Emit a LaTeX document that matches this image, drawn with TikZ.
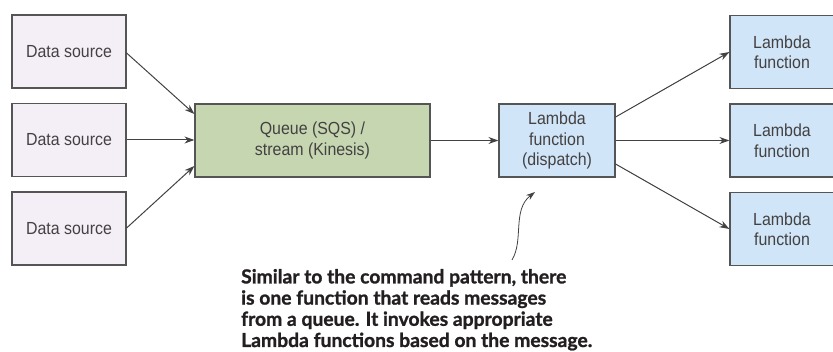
\documentclass[tikz,border=0pt]{standalone}
\usepackage{fontspec}
\setmainfont{Liberation Sans}
\newfontfamily\boxfont[FakeStretch=0.91]{Liberation Sans}
\newfontfamily\notefont[FakeBold=1.2]{Lato}
\usetikzlibrary{arrows.meta}
\definecolor{srcfill}{HTML}{F4EFF7}
\definecolor{qfill}{HTML}{C6D6B1}
\definecolor{lfill}{HTML}{D0E5F7}
\definecolor{edge}{HTML}{555555}
\definecolor{ink}{HTML}{231F20}
\tikzset{
  box/.style={draw=edge, line width=1.2pt, minimum height=73pt, inner sep=0pt, align=center,
    font=\boxfont\fontsize{17.5}{20.5}\selectfont, text=ink!85},
  src/.style={box, fill=srcfill, minimum width=114pt},
  queue/.style={box, fill=qfill, minimum width=235pt},
  lam/.style={box, fill=lfill, minimum width=116pt},
  lamr/.style={box, fill=lfill, minimum width=104pt},
  conn/.style={draw=ink!85, line width=1pt, -{Stealth[length=10pt,width=7pt]}},
}
\begin{document}
\begin{tikzpicture}[x=1pt,y=-1pt]
\useasboundingbox (0,0) rectangle (833,352);
\node[src] (s1) at (69,51.5) {Data source};
\node[src] (s2) at (69,140) {Data source};
\node[src] (s3) at (69,228.5) {Data source};
\node[queue] (q) at (312.5,140.5) {Queue (SQS) /\\stream (Kinesis)};
\node[lam] (d) at (557,140.5) {Lambda\\function\\(dispatch)};
\node[lamr] (l1) at (782,52) {Lambda\\function};
\node[lamr] (l2) at (782,140.5) {Lambda\\function};
\node[lamr] (l3) at (782,229) {Lambda\\function};
\draw[conn] (s1.east |- 0,53) -- (q.west |- 0,114);
\draw[conn] (s2) -- (q.west |- s2);
\draw[conn] (s3.east |- 0,228) -- (q.west |- 0,166);
\draw[conn] (q) -- (d);
\draw[conn] (d.east |- 0,117) -- (l1.west |- 0,52);
\draw[conn] (d.east |- 0,140.5) -- (l2.west |- 0,140.5);
\draw[conn] (d.east |- 0,164) -- (l3.west |- 0,229);
\node[anchor=base west, align=left, inner sep=0pt, text=ink,
  font=\notefont\bfseries\fontsize{19.3}{21.2}\selectfont] (note) at (241,347)
  {Similar to the command pattern, there\\is one function that reads messages\\from a queue. It invokes appropriate\\Lambda functions based on the message.};
\coordinate (a0) at (512,260);
\coordinate (a1) at (535,192);
\draw[conn, line width=0.8pt, -{Stealth[length=9pt,width=6pt]}] (a0) .. controls (524,240) and (512,210) .. (a1);
\end{tikzpicture}
\end{document}
